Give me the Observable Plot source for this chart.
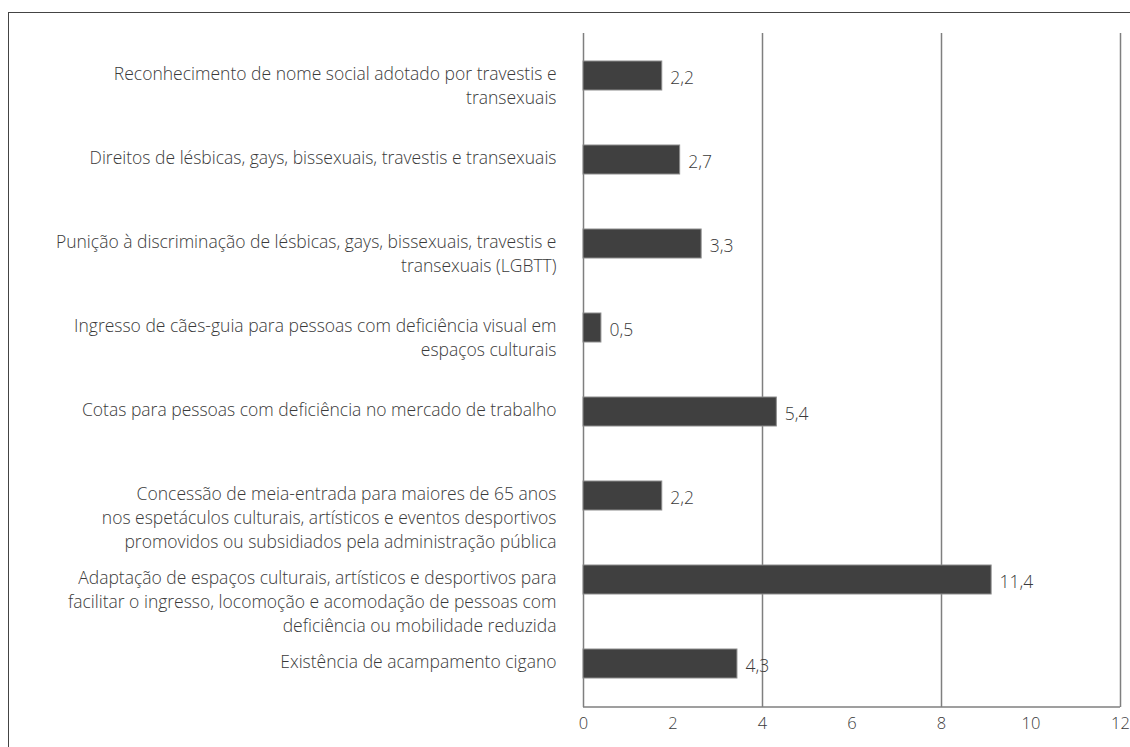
<!DOCTYPE html>
<html>
<head>
<meta charset="utf-8">
<script src="https://cdn.jsdelivr.net/npm/d3@7"></script>
<script src="https://cdn.jsdelivr.net/npm/@observablehq/plot@0.6"></script>
<style>
  html, body { margin: 0; padding: 0; background: #fff; }
  #wrap { position: relative; width: 1130px; height: 747px; overflow: hidden; }
  #border { position: absolute; left: 8px; top: 12px; right: -10px; bottom: -10px;
            border-left: 1.5px solid #444; border-top: 1.5px solid #444; pointer-events: none; }
  #chart { position: absolute; left: 0; top: 0; }
</style>
</head>
<body>
<div id="wrap"><div id="chart"></div><div id="border"></div></div>
<script>
const categories = [
  "Reconhecimento de nome social adotado por travestis e\ntransexuais",
  "Direitos de lésbicas, gays, bissexuais, travestis e transexuais",
  "Punição à discriminação de lésbicas, gays, bissexuais, travestis e\ntransexuais (LGBTT)",
  "Ingresso de cães-guia para pessoas com deficiência visual em\nespaços culturais",
  "Cotas para pessoas com deficiência no mercado de trabalho",
  "Concessão de meia-entrada para maiores de 65 anos\nnos espetáculos culturais, artísticos e eventos desportivos\npromovidos ou subsidiados pela administração pública",
  "Adaptação de espaços culturais, artísticos e desportivos para\nfacilitar o ingresso, locomoção e acomodação de pessoas com\ndeficiência ou mobilidade reduzida",
  "Existência de acampamento cigano"
];
const values = [2.2, 2.7, 3.3, 0.5, 5.4, 2.2, 11.4, 4.3];
const tickValues = [0, 2, 4, 6, 8, 10, 12];
const gridValues = [0, 4, 8, 12];
// In the original, bars are drawn at 0.8 of their labelled value on the axis
const barScale = 0.8;

const data = categories.map((c, i) => ({label: c, value: values[i]}));
const fmt = v => v.toFixed(1).replace(".", ",");

const textColor = "#3a3a3a";
const fs = 17.5;

const bottomLine = (index, scales, vals, dims) => {
  const y = dims.height - dims.marginBottom;
  return d3.create("svg:line")
    .attr("x1", dims.marginLeft).attr("x2", dims.width - dims.marginRight)
    .attr("y1", y).attr("y2", y)
    .attr("stroke", "#7f7f7f").attr("stroke-width", 1.5)
    .node();
};

const chart = Plot.plot({
  width: 1130,
  height: 747,
  marginLeft: 583,
  marginRight: 10,
  marginTop: 33,
  marginBottom: 40,
  style: {fontFamily: "'Open Sans', sans-serif", fontSize: fs + "px", fontWeight: 300, color: textColor, background: "transparent"},
  x: {domain: [0, 12]},
  y: {domain: categories, paddingInner: 0.65, paddingOuter: 0.325, axis: null},
  marks: [
    Plot.ruleX(gridValues, {stroke: "#7f7f7f", strokeWidth: 1.5}),
    bottomLine,
    Plot.barX(data, {x: d => d.value * barScale, y: "label", fill: "#404040", stroke: "#8c8c8c", strokeWidth: 1}),
    Plot.text(data, {x: d => d.value * barScale, y: "label", text: d => fmt(d.value), textAnchor: "start", dx: 8, dy: 2, fill: textColor, fontSize: fs}),
    Plot.text(data, {x: 0, y: "label", text: "label", textAnchor: "end", lineAnchor: "top", dx: -27, dy: -13, lineHeight: 24 / fs, fill: textColor, fontSize: fs}),
    Plot.axisX({ticks: tickValues, tickSize: 0, tickPadding: 10, tickFormat: d => String(d), fill: textColor, fontSize: 16.5})
  ]
});
document.getElementById("chart").appendChild(chart);
</script>
</body>
</html>
